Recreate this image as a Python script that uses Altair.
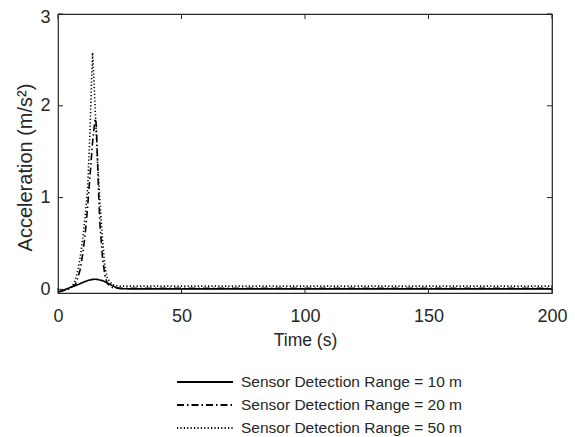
import altair as alt
import pandas as pd

series_names = ["Sensor Detection Range = 10 m",
                "Sensor Detection Range = 20 m",
                "Sensor Detection Range = 50 m"]

t_10 = [0, 2, 4, 6, 8, 10, 12, 14, 15, 16, 18, 20, 22, 24, 26, 30, 50, 100, 150, 200]
a_10 = [-0.03, -0.01, 0.01, 0.03, 0.05, 0.075, 0.095, 0.108, 0.11, 0.108, 0.095,
        0.07, 0.04, 0.015, 0.006, 0.005, 0.005, 0.005, 0.005, 0.005]

t_20 = [0, 4, 7, 8, 9, 10, 11, 12, 13, 14, 15, 15.5, 16, 16.5, 17, 18, 19, 20, 22,
        25, 50, 100, 150, 200]
a_20 = [-0.03, 0.0, 0.05, 0.12, 0.22, 0.38, 0.6, 0.9, 1.25, 1.6, 1.86, 1.8, 1.4,
        1.0, 0.7, 0.35, 0.15, 0.06, 0.02, 0.01, 0.01, 0.01, 0.01, 0.01]

t_50 = [0, 4, 6, 7, 8, 9, 10, 11, 12, 13, 13.5, 14, 14.5, 15, 16, 17, 18, 19, 20,
        22, 25, 50, 100, 150, 200]
a_50 = [-0.03, 0.0, 0.04, 0.1, 0.2, 0.35, 0.55, 0.8, 1.1, 1.75, 2.2, 2.58, 2.3,
        2.0, 1.4, 0.95, 0.55, 0.25, 0.12, 0.05, 0.035, 0.035, 0.035, 0.035, 0.035]

x_ticks = [0, 50, 100, 150, 200]
y_ticks = [0, 1, 2, 3]

rows = []
for name, ts, vs in zip(series_names, [t_10, t_20, t_50], [a_10, a_20, a_50]):
    for t, v in zip(ts, vs):
        rows.append({"Time": t, "Acc": v, "Series": name})
df = pd.DataFrame(rows)

W, H = 494, 279
AX = "#262626"
FONT = "Liberation Sans, Arial, Helvetica, sans-serif"

xscale = alt.Scale(domain=[0, 200], nice=False, zero=False)
yscale = alt.Scale(domain=[-0.04, 3], nice=False, zero=False)

lines = alt.Chart(df).mark_line(color="black", strokeWidth=1.6, clip=True).encode(
    x=alt.X("Time:Q", scale=xscale,
            axis=alt.Axis(values=x_ticks, title="Time (s)", ticks=False, tickSize=0,
                          domain=False, grid=False, labelPadding=14, titlePadding=6,
                          format="d", labelFlush=False)),
    y=alt.Y("Acc:Q", scale=yscale,
            axis=alt.Axis(values=y_ticks, title="Acceleration (m/s²)", ticks=False,
                          tickSize=0, domain=False, grid=False, labelPadding=8,
                          titlePadding=4, titleFontSize=20, format="d", titleY=153,
                          labelOffset={"condition": {"test": "datum.value == 3", "value": 3},
                                       "value": 0})),
    strokeDash=alt.StrokeDash(
        "Series:N",
        scale=alt.Scale(domain=series_names, range=[[1, 0], [7, 3, 1.5, 3], [1.2, 2.2]]),
        legend=alt.Legend(title=None, orient="none", legendX=138, legendY=359,
                          symbolType="M-3.5,0H3.5", symbolSize=256, symbolStrokeWidth=1.8,
                          symbolStrokeColor="black", labelFontSize=15.5, labelFont=FONT,
                          labelColor=AX, rowPadding=5, labelOffset=27, labelLimit=0),
    ),
    order=alt.Order("Time:Q"),
)

xt = pd.DataFrame({"v": x_ticks})
yt = pd.DataFrame({"v": y_ticks})
tk = dict(color=AX, strokeWidth=1)
ticks_bottom = alt.Chart(xt).mark_rule(**tk).encode(
    x=alt.X("v:Q", scale=xscale), y=alt.value(H), y2=alt.value(H - 5))
ticks_top = alt.Chart(xt).mark_rule(**tk).encode(
    x=alt.X("v:Q", scale=xscale), y=alt.value(0), y2=alt.value(5))
ticks_left = alt.Chart(yt).mark_rule(**tk).encode(
    y=alt.Y("v:Q", scale=yscale), x=alt.value(0), x2=alt.value(5))
ticks_right = alt.Chart(yt).mark_rule(**tk).encode(
    y=alt.Y("v:Q", scale=yscale), x=alt.value(W), x2=alt.value(W - 5))

chart = alt.layer(lines, ticks_bottom, ticks_top, ticks_left, ticks_right).properties(
    width=W, height=H,
    autosize=alt.AutoSizeParams(type="none"),
    padding={"left": 50, "top": 6, "right": 15, "bottom": 144},
    background="white",
).configure_view(stroke=AX, strokeWidth=1.2).configure_axis(
    labelFont=FONT, labelFontSize=18, labelColor=AX,
    titleFont=FONT, titleFontSize=17.5, titleColor=AX, titleFontWeight="normal",
)

chart.save("out.html", embed_options={"renderer": "svg", "actions": False})
